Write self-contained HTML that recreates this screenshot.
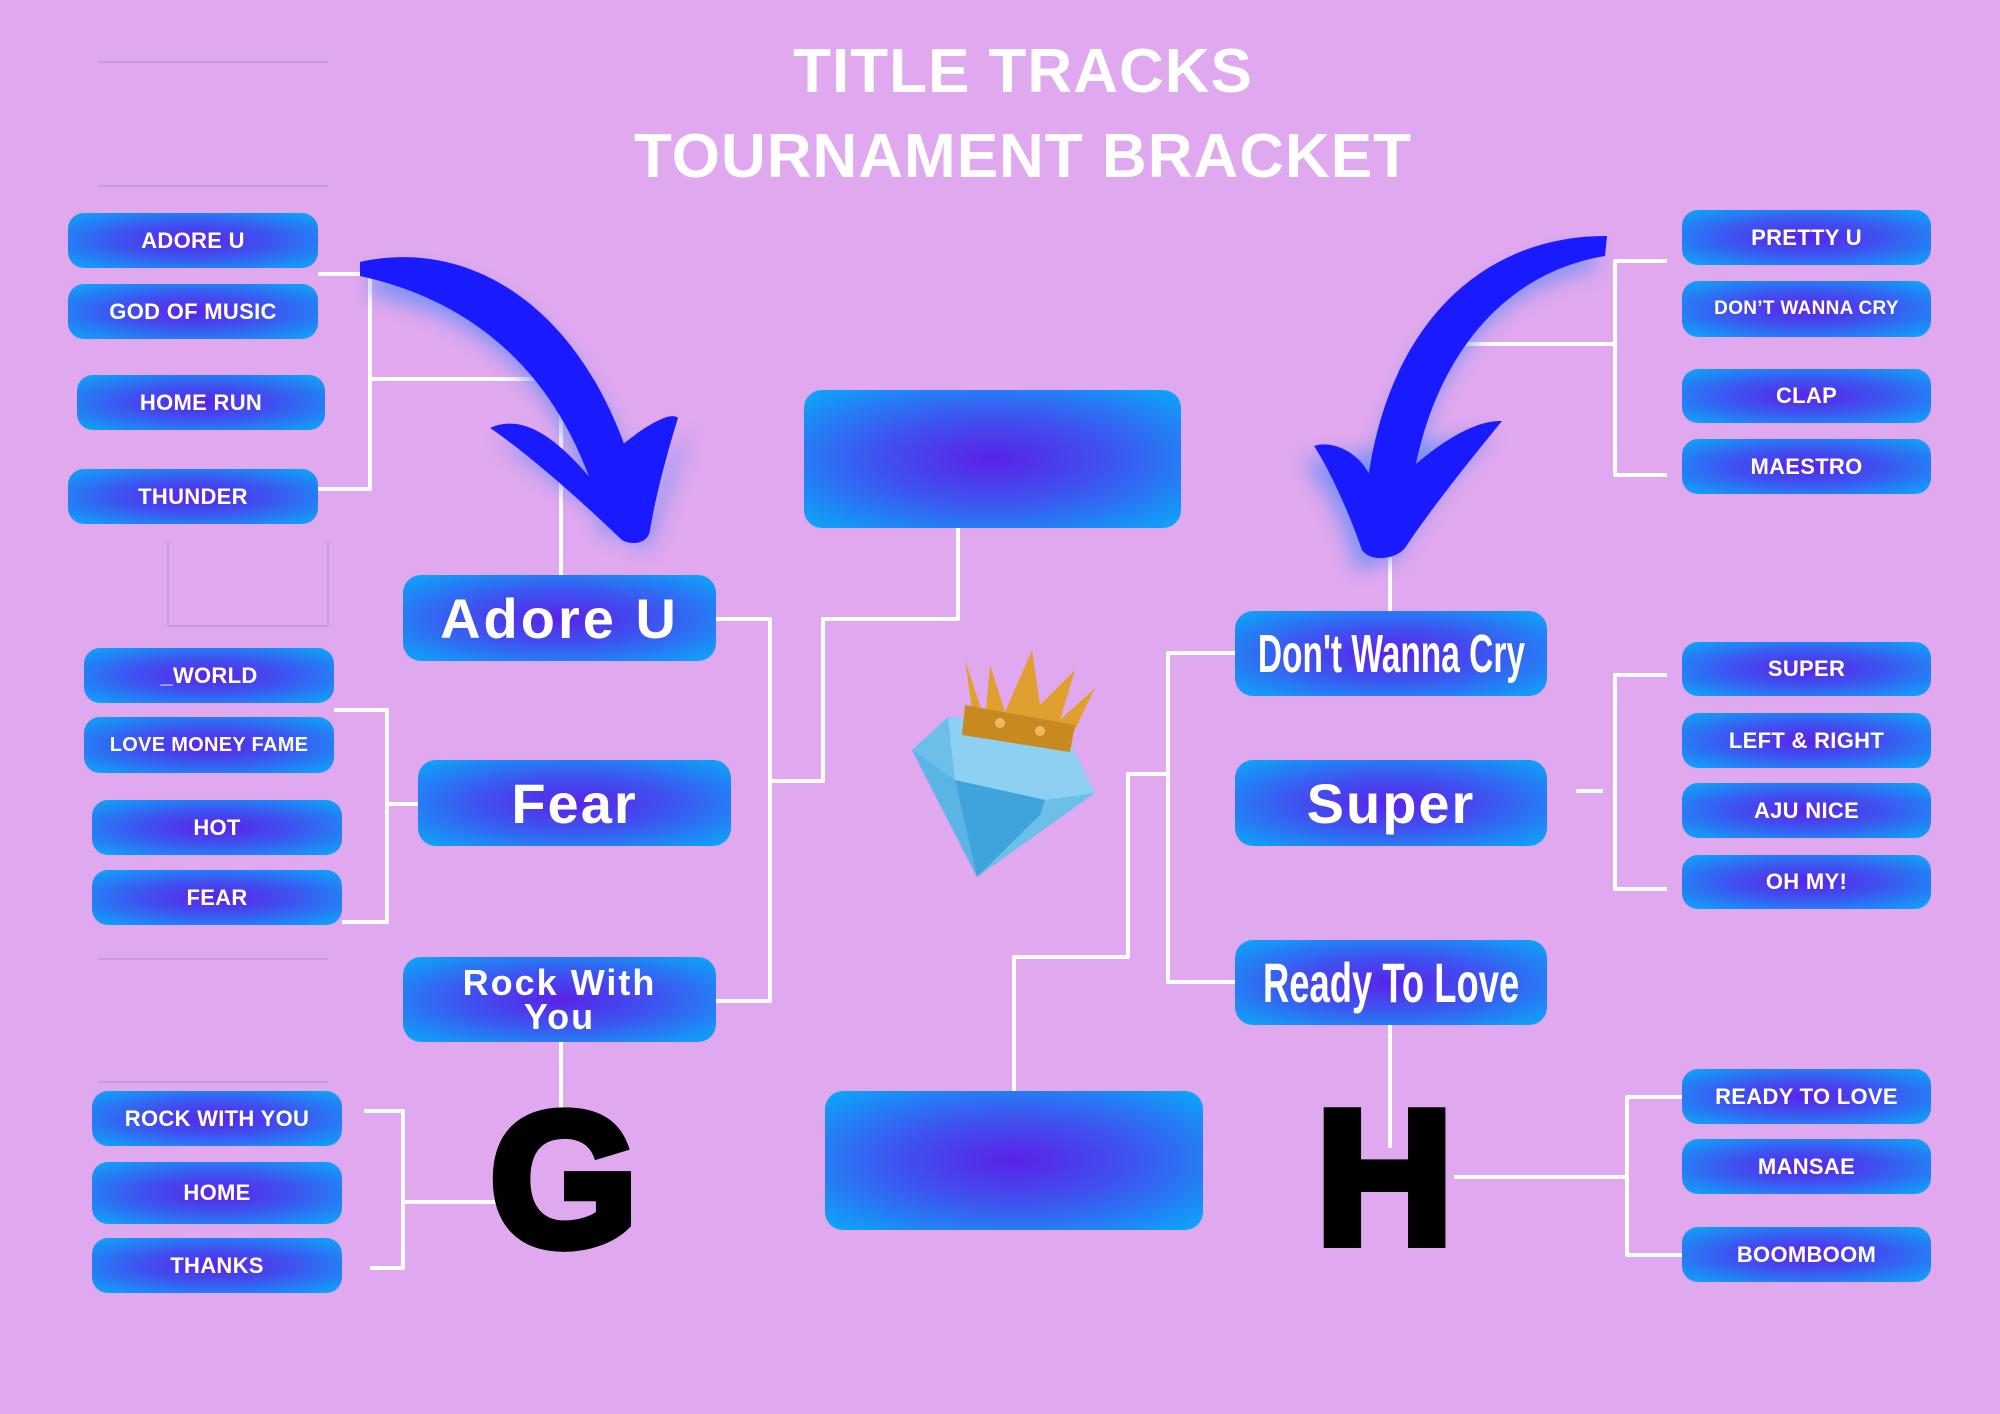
<!DOCTYPE html>
<html><head><meta charset="utf-8"><style>
html,body{margin:0;padding:0}
body{width:2000px;height:1414px;background:#e0a8ee;position:relative;overflow:hidden;font-family:"Liberation Sans",sans-serif}
.b{position:absolute;border-radius:16px;background:radial-gradient(ellipse at center,#5a22e8 0%,#3d55f0 45%,#0aaaf9 100%);color:#fff;font-weight:bold;display:flex;align-items:center;justify-content:center;text-align:center}
.s{font-size:22px;letter-spacing:0.3px}
.m{font-size:56px;border-radius:18px}
.t{position:absolute;left:0;width:2046px;text-align:center;color:#fff;font-weight:bold;font-size:62px;letter-spacing:1px}
svg{position:absolute;left:0;top:0}
.L{position:absolute;font-weight:900;font-size:190px;color:#000;line-height:1;-webkit-text-stroke:10px #000}
</style></head><body>
<div class="t" style="top:36px">TITLE TRACKS</div>
<div class="t" style="top:121px">TOURNAMENT BRACKET</div>

<svg width="2000" height="1414">
<defs><filter id="gl" x="-30%" y="-30%" width="160%" height="160%"><feGaussianBlur stdDeviation="10"/></filter></defs>
<g stroke="#b98ac8" stroke-width="1" fill="none">
<line x1="98" y1="62" x2="328" y2="62"/><line x1="98" y1="186" x2="328" y2="186"/>
<polyline points="168,542 168,626 328,626 328,542"/>
<line x1="98" y1="959" x2="328" y2="959"/><line x1="98" y1="1082" x2="328" y2="1082"/>
</g>
<g stroke="#fff" stroke-width="4" fill="none" stroke-linejoin="round">
<polyline points="318,274 370,274 370,489 318,489"/><polyline points="370,379 561,379 561,575"/>
<polyline points="716,619 770,619 770,1001 716,1001"/><polyline points="770,781 823,781 823,619 958,619 958,528"/>
<polyline points="334,710 387,710 387,922 342,922"/><line x1="387" y1="804" x2="418" y2="804"/>
<polyline points="364,1111 403,1111 403,1268 370,1268"/><line x1="403" y1="1202" x2="510" y2="1202"/>
<line x1="561" y1="1042" x2="561" y2="1110"/>
<polyline points="1667,261 1615,261 1615,475 1667,475"/><line x1="1615" y1="344" x2="1454" y2="344"/>
<line x1="1390" y1="557" x2="1390" y2="611"/>
<polyline points="1235,653 1168,653 1168,982 1235,982"/><polyline points="1168,774 1128,774 1128,957 1014,957 1014,1091"/>
<polyline points="1667,675 1615,675 1615,889 1667,889"/><line x1="1576" y1="791" x2="1603" y2="791"/>
<line x1="1390" y1="1025" x2="1390" y2="1148"/>
<polyline points="1454,1177 1627,1177"/><polyline points="1682,1097 1627,1097 1627,1255 1682,1255"/>
</g>
<!-- left arrow -->
<g filter="url(#gl)" fill="#6f8ff5" opacity="0.9" transform="translate(8,14)">
<path d="M363,261 C480,240 600,330 640,520 L595,520 C560,370 470,300 363,280 Z"/>
<path d="M490,425 C540,430 600,480 630,540 C650,470 660,440 680,420 L640,535 Z"/>
</g>
<g fill="#1a1aff">
<path d="M360,262 C480,235 600,320 642,505 L600,510 C560,370 470,300 360,276 Z"/>
<path d="M490,428 C530,410 570,450 612,505 L622,445 C640,430 670,410 678,418 C665,460 655,500 650,530 C648,545 630,545 622,540 C580,500 530,455 490,428 Z"/>
</g>
<!-- right arrow -->
<g filter="url(#gl)" fill="#6f8ff5" opacity="0.9" transform="translate(-10,14)">
<path d="M1605,238 C1490,240 1390,340 1365,540 L1410,540 C1420,380 1490,275 1605,255 Z"/>
<path d="M1314,446 C1340,480 1360,520 1365,555 L1405,545 C1430,500 1470,450 1502,421 Z"/>
</g>
<g fill="#1a1aff">
<path d="M1607,236 C1480,235 1375,330 1364,520 L1408,522 C1418,380 1490,275 1605,256 Z"/>
<path d="M1314,446 C1330,440 1360,450 1372,480 L1398,480 C1430,450 1470,420 1502,421 C1470,460 1430,510 1405,548 C1395,560 1370,562 1362,550 C1350,515 1330,470 1314,446 Z"/>
</g>
<!-- diamond -->
<polygon points="912,750 948,717 1060,722 1095,793 977,877" fill="#6cbfe9"/>
<polygon points="948,717 1060,722 1095,793 1045,800 955,780" fill="#8dd0f2"/>
<polygon points="955,780 1045,800 1040,815 977,877" fill="#3fa3dc"/>
<polygon points="912,750 955,780 977,877" fill="#5ab4e6"/>
<!-- crown -->
<polygon points="965,660 985,720 990,665 1005,712 1032,650 1040,705 1075,670 1060,720 1095,688 1070,740 975,730" fill="#e0a030"/>
<polygon points="965,705 1075,725 1070,752 962,735" fill="#c88a20"/>
<circle cx="1000" cy="723" r="5" fill="#f0b860"/><circle cx="1040" cy="731" r="5" fill="#f0b860"/>
</svg>

<div class="b s" style="left:68px;top:213px;width:250px;height:55px">ADORE U</div>
<div class="b s" style="left:68px;top:284px;width:250px;height:55px">GOD OF MUSIC</div>
<div class="b s" style="left:77px;top:375px;width:248px;height:55px">HOME RUN</div>
<div class="b s" style="left:68px;top:469px;width:250px;height:55px">THUNDER</div>
<div class="b s" style="left:84px;top:648px;width:250px;height:55px">_WORLD</div>
<div class="b s" style="left:84px;top:717px;width:250px;height:56px;font-size:20px">LOVE MONEY FAME</div>
<div class="b s" style="left:92px;top:800px;width:250px;height:55px">HOT</div>
<div class="b s" style="left:92px;top:870px;width:250px;height:55px">FEAR</div>
<div class="b s" style="left:92px;top:1091px;width:250px;height:55px">ROCK WITH YOU</div>
<div class="b s" style="left:92px;top:1162px;width:250px;height:62px">HOME</div>
<div class="b s" style="left:92px;top:1238px;width:250px;height:55px">THANKS</div>

<div class="b s" style="left:1682px;top:210px;width:249px;height:55px">PRETTY U</div>
<div class="b s" style="left:1682px;top:281px;width:249px;height:56px;font-size:19px">DON’T WANNA CRY</div>
<div class="b s" style="left:1682px;top:369px;width:249px;height:54px">CLAP</div>
<div class="b s" style="left:1682px;top:439px;width:249px;height:55px">MAESTRO</div>
<div class="b s" style="left:1682px;top:642px;width:249px;height:54px">SUPER</div>
<div class="b s" style="left:1682px;top:713px;width:249px;height:55px">LEFT &amp; RIGHT</div>
<div class="b s" style="left:1682px;top:783px;width:249px;height:55px">AJU NICE</div>
<div class="b s" style="left:1682px;top:855px;width:249px;height:54px">OH MY!</div>
<div class="b s" style="left:1682px;top:1069px;width:249px;height:55px">READY TO LOVE</div>
<div class="b s" style="left:1682px;top:1139px;width:249px;height:55px">MANSAE</div>
<div class="b s" style="left:1682px;top:1227px;width:249px;height:55px">BOOMBOOM</div>

<div class="b m" style="left:403px;top:575px;width:313px;height:86px;letter-spacing:3px">Adore U</div>
<div class="b m" style="left:418px;top:760px;width:313px;height:86px;letter-spacing:2px">Fear</div>
<div class="b m" style="left:403px;top:957px;width:313px;height:85px;font-size:36px;line-height:34px;letter-spacing:2px">Rock With<br>You</div>
<div class="b m" style="left:1235px;top:611px;width:312px;height:85px"><span style="display:inline-block;transform:scaleX(0.62);font-size:54px;white-space:nowrap">Don't Wanna Cry</span></div>
<div class="b m" style="left:1235px;top:760px;width:312px;height:86px;letter-spacing:2px">Super</div>
<div class="b m" style="left:1235px;top:940px;width:312px;height:85px"><span style="display:inline-block;transform:scaleX(0.65);font-size:56px;white-space:nowrap">Ready To Love</span></div>

<div class="b" style="left:804px;top:390px;width:377px;height:138px;border-radius:18px"></div>
<div class="b" style="left:825px;top:1091px;width:378px;height:139px;border-radius:18px"></div>

<div class="L" style="left:490px;top:1085px">G</div>
<div class="L" style="left:1316px;top:1083px">H</div>
</body></html>
